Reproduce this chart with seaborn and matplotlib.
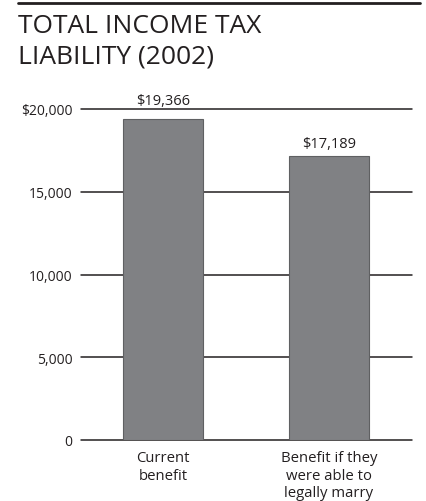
import matplotlib
matplotlib.use('Agg')
import matplotlib.pyplot as plt
from matplotlib.lines import Line2D
import pandas as pd
import seaborn as sns

# Data
categories = ['Current\nbenefit', 'Benefit if they\nwere able to\nlegally marry']
liability = [19366, 17189]
value_labels = ['$19,366', '$17,189']
y_ticks = [0, 5000, 10000, 15000, 20000]
y_tick_labels = ['0', '5,000', '10,000', '15,000', '$20,000']

df = pd.DataFrame({'category': categories, 'liability': liability})

sns.set_theme(style='white')
plt.rcParams['font.family'] = ['Open Sans', 'DejaVu Sans']

fig = plt.figure(figsize=(4.26, 5.02), dpi=100)
rect = [81 / 426, 61 / 502, 331 / 426, 331 / 502]

# background axes holds the horizontal rules, so they sit behind the bars
ax_bg = fig.add_axes(rect, zorder=0)
ax_bg.set_ylim(0, 20000)
for t in y_ticks:
    ax_bg.axhline(t, color='#231f20', lw=1.1, clip_on=False)
ax_bg.axis('off')

ax = fig.add_axes(rect, zorder=1)
ax.patch.set_alpha(0)
sns.barplot(data=df, x='category', y='liability', color='#808184',
            width=0.48, edgecolor='#5f6062', linewidth=0.8,
            saturation=1, ax=ax)
# make sure the bars are fully opaque so the rules do not show through
for p in ax.patches:
    p.set_alpha(1.0)
    p.set_facecolor('#808184')
    p.set_zorder(5)

ax.set_xlim(-0.494, 1.5)
ax.set_ylim(0, 20000)
ax.set_yticks(y_ticks)
ax.set_yticklabels(y_tick_labels, fontsize=10, color='#231f20')
ax.grid(False)
ax.tick_params(axis='y', length=0, pad=6)
ax.tick_params(axis='x', length=0, pad=7.5)
for lbl in ax.get_xticklabels():
    lbl.set_fontsize(10.7)
    lbl.set_color('#231f20')
    lbl.set_linespacing(1.2)
ax.set_xlabel('')
ax.set_ylabel('')
for s in ax.spines.values():
    s.set_visible(False)

# value labels; the first one is lifted above the $20,000 rule
label_offsets = [10.8, 5.8]
for i, (v, lab) in enumerate(zip(liability, value_labels)):
    ax.annotate(lab, (i, v), xytext=(0, label_offsets[i]),
                textcoords='offset points', ha='center', va='baseline',
                fontsize=10.5, color='#231f20', annotation_clip=False)

# Title and top rule
fig.add_artist(Line2D([18 / 426, 420 / 426], [1 - 4 / 502, 1 - 4 / 502],
                      color='#231f20', lw=2))
fig.text(18 / 426, 1 - 33 / 502, 'TOTAL INCOME TAX',
         ha='left', va='baseline', fontsize=19, color='#231f20')
fig.text(18 / 426, 1 - 64 / 502, 'LIABILITY (2002)',
         ha='left', va='baseline', fontsize=19, color='#231f20')

fig.savefig('out.png', dpi=100)
